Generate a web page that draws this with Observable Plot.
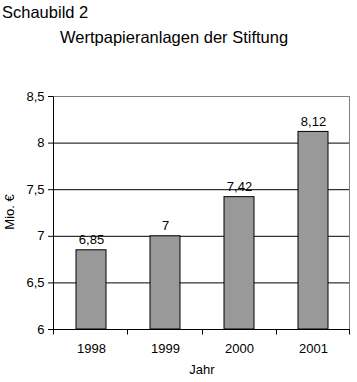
<!DOCTYPE html>
<html><head><meta charset="utf-8">
<script src="https://cdn.jsdelivr.net/npm/d3@7"></script>
<script src="https://cdn.jsdelivr.net/npm/@observablehq/plot@0.6"></script>
<style>
body{margin:0;background:#fff;font-family:"Liberation Sans",Arial,sans-serif;color:#000;}
#wrap{position:relative;width:357px;height:382px;overflow:hidden;}
#t1{position:absolute;left:2px;top:4px;font-size:16.5px;line-height:16px;white-space:nowrap;}
#t2{position:absolute;left:60px;top:29px;font-size:16.5px;line-height:16px;white-space:nowrap;}
#ylab{position:absolute;left:9px;top:212px;font-size:13px;line-height:13px;white-space:nowrap;transform:translate(-50%,-50%) rotate(-90deg);}
#chart{position:absolute;left:0;top:0;}
</style></head><body>
<div id="wrap">
<div id="chart"></div>
<div id="t1">Schaubild 2</div>
<div id="t2">Wertpapieranlagen der Stiftung</div>
<div id="ylab">Mio. €</div>
</div>
<script>
const years = ["1998", "1999", "2000", "2001"];
const values = [6.85, 7, 7.42, 8.12];
const valueLabels = ["6,85", "7", "7,42", "8,12"];
const yTicks = [6, 6.5, 7, 7.5, 8, 8.5];
const yTickLabels = ["6", "6,5", "7", "7,5", "8", "8,5"];
const gridValues = [6.5, 7, 7.5, 8];
const xLabel = "Jahr";

const data = years.map((year, i) => ({year, value: values[i], label: valueLabels[i]}));

function frameMarks(index, scales, vals, dim) {
  const g = d3.create("svg:g");
  const left = dim.marginLeft, right = dim.width - dim.marginRight;
  const top = Math.round(scales.y(yTicks[yTicks.length - 1])) + 0.5;
  const bottom = Math.round(scales.y(yTicks[0])) + 0.5;
  const step = (right - left) / years.length;
  g.append("line").attr("x1", left).attr("x2", right).attr("y1", top).attr("y2", top).attr("stroke", "#808080");
  g.append("line").attr("x1", right - 0.5).attr("x2", right - 0.5).attr("y1", top).attr("y2", bottom).attr("stroke", "#808080");
  g.append("line").attr("x1", left + 0.5).attr("x2", left + 0.5).attr("y1", top).attr("y2", bottom).attr("stroke", "#000");
  g.append("line").attr("x1", left).attr("x2", right).attr("y1", bottom).attr("y2", bottom).attr("stroke", "#000");
  for (let i = 0; i <= years.length; i++) {
    const x = Math.round(left + i * step) + 0.5 - (i === years.length ? 1 : 0);
    g.append("line").attr("x1", x).attr("x2", x).attr("y1", bottom).attr("y2", bottom + 5).attr("stroke", "#000");
  }
  return g.node();
}

const chart = Plot.plot({
  width: 357,
  height: 382,
  marginTop: 96,
  marginBottom: 53,
  marginLeft: 53,
  marginRight: 7,
  style: {fontFamily: "'Liberation Sans', Arial, sans-serif", fontSize: "13px", color: "#000", background: "#fff", overflow: "visible"},
  x: {domain: years, paddingInner: 0.6, paddingOuter: 0.3, tickSize: 0, tickPadding: 14, label: null},
  y: {domain: [yTicks[0], yTicks[yTicks.length - 1]], ticks: yTicks, tickFormat: d => yTickLabels[yTicks.indexOf(d)], tickSize: 5, tickPadding: 4, label: null},
  marks: [
    Plot.ruleY(gridValues, {stroke: "#000", strokeWidth: 1}),
    Plot.barY(data, {x: "year", y1: yTicks[0], y2: "value", fill: "#999999", stroke: "#000", strokeWidth: 1}),
    Plot.text(data, {x: "year", y: "value", text: "label", dy: -6, lineAnchor: "bottom", fontSize: 13}),
    Plot.text([xLabel], {frameAnchor: "bottom", text: d => d, dy: 44, fontSize: 13}),
    frameMarks
  ]
});
document.getElementById("chart").appendChild(chart);
</script>
</body></html>
